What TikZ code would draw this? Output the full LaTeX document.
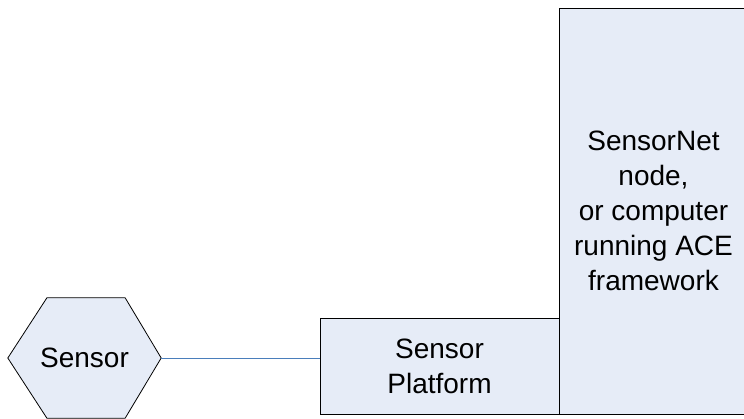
\documentclass[tikz,border=0pt]{standalone}
\usepackage{fontspec}
\setmainfont{Liberation Sans}
\usepackage{tikz}
\usetikzlibrary{positioning, calc}
\definecolor{boxfill}{HTML}{E6ECF7}
\definecolor{linkblue}{HTML}{4A7EBB}

\begin{document}
\begin{tikzpicture}[
    x=1pt, y=-1pt,
    box/.style={rectangle, draw=black, fill=boxfill, line width=0.8pt, inner sep=0pt, align=center, font=\fontsize{28}{35}\selectfont},
    hexbox/.style={rectangle, inner sep=0pt, minimum width=153pt, minimum height=120pt, font=\fontsize{28}{35}\selectfont},
    link/.style={draw=linkblue, line width=0.8pt}
]
\useasboundingbox (0,0) rectangle (744,419);

% Hexagon sensor
\node[hexbox] (sensor) at (84.5,358) {};
\fill[boxfill, draw=black, line width=0.8pt] (sensor.west)
    -- ($(sensor.north west)!0.255!(sensor.north east)$)
    -- ($(sensor.north east)!0.235!(sensor.north west)$)
    -- (sensor.east)
    -- ($(sensor.south east)!0.235!(sensor.south west)$)
    -- ($(sensor.south west)!0.255!(sensor.south east)$)
    -- cycle;
\node[font=\fontsize{28}{35}\selectfont] (sensortext) at (sensor.center) {Sensor};

% Platform and node boxes
\node[box, minimum width=239pt, minimum height=96pt] (platform) at (439.5,366.5) {Sensor\\Platform};
\node[box, minimum width=189pt, minimum height=406pt] (acenode) at (653.5,211) {SensorNet\\node,\\or computer\\running ACE\\framework};

\draw[link] (sensor.east) -- (sensor.east -| platform.west);

\end{tikzpicture}
\end{document}
